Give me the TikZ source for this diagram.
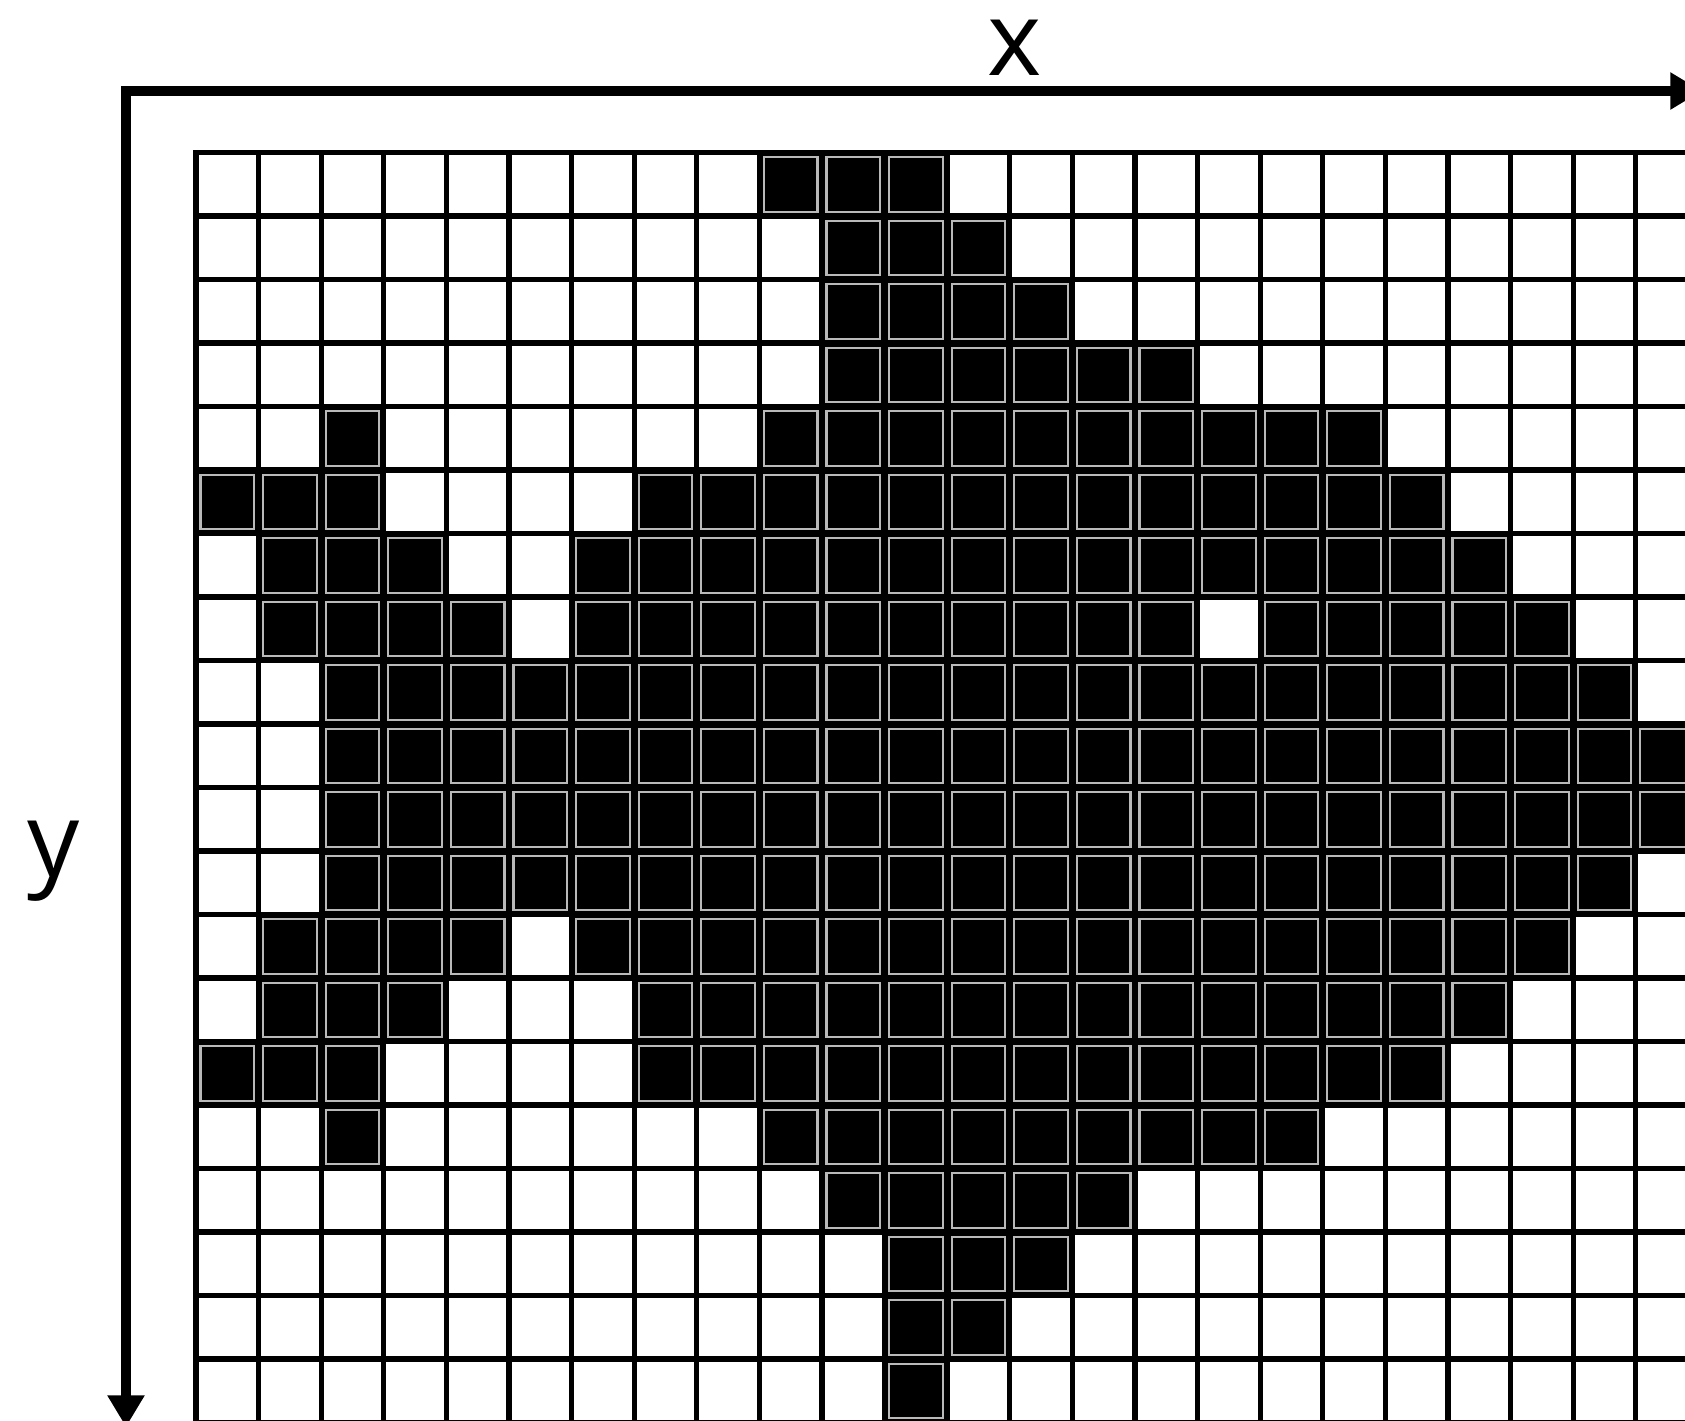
\documentclass[tikz,border=0pt]{standalone}
\usepackage{fontspec}
\setmainfont{Open Sans}
\usetikzlibrary{arrows.meta}
\definecolor{rimgray}{RGB}{185,185,185}
\begin{document}
\begin{tikzpicture}[x=0.02cm,y=-0.02cm,font=\fontsize{59}{70}\selectfont,
  line join=miter,>={Triangle[width=20pt,length=18pt]},
  gridline/.style={line width=3pt,line cap=rect},
  axis/.style={line width=6.2pt,line cap=rect,->},
  axislabel/.style={inner sep=0pt,anchor=base},
  pixel/.style={fill=black},
  pixelrim/.style={draw=rimgray,line width=1.2pt}]
\useasboundingbox (0,0) rectangle (1685,1421);
\clip (0,0) rectangle (1685,1421);
% black pixels: row / first column / last column
\foreach \r/\a/\b in {0/9/11, 1/10/12, 2/10/13, 3/10/15,
    4/2/2, 4/9/18, 5/0/2, 5/7/19, 6/1/3, 6/6/20,
    7/1/4, 7/6/15, 7/17/21, 8/2/22, 9/2/23, 10/2/23, 11/2/22,
    12/1/4, 12/6/21, 13/1/3, 13/7/20, 14/0/2, 14/7/19,
    15/2/2, 15/9/17, 16/10/14, 17/11/13, 18/11/12, 19/11/11}
  \foreach \c in {\a,...,\b} {
    \fill[pixel] (196+\c*62.6,152.6+\r*63.5) rectangle ++(62.6,63.5);
    \draw[pixelrim] (200.5+\c*62.6,157.1+\r*63.5) rectangle ++(53.6,54.5);
  }
% grid
\foreach \c in {0,...,24}
  \draw[gridline] (196+\c*62.6,152.6) -- (196+\c*62.6,1440);
\foreach \r in {0,...,20}
  \draw[gridline] (196,152.6+\r*63.5) -- (1700,152.6+\r*63.5);
% axes
\coordinate (O) at (126,91);
\coordinate (xend) at (1702,91);
\coordinate (yend) at (126,1427);
\draw[axis] (O) -- (xend);
\draw[axis] (O) -- (yend);
\node[axislabel] (xlabel) at (1015,75) {x};
\node[axislabel] (ylabel) at (54,876) {y};
\end{tikzpicture}
\end{document}
